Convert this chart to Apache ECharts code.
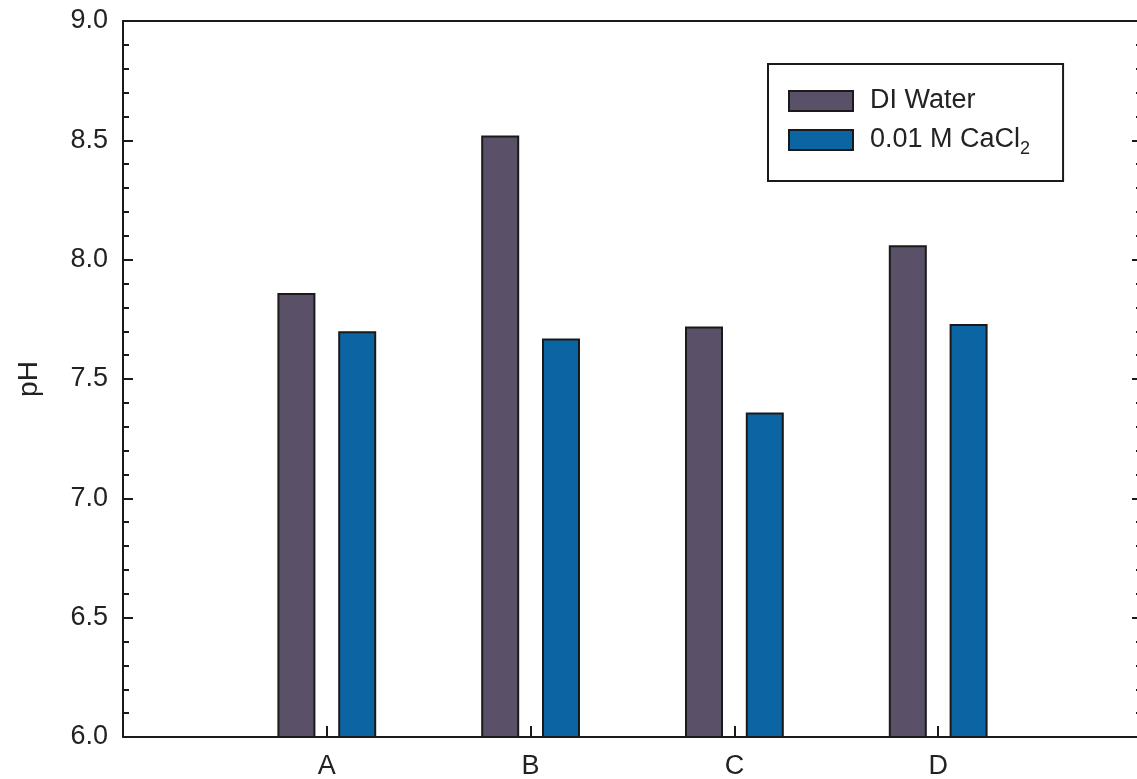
<!DOCTYPE html>
<html>
<head>
<meta charset="utf-8">
<script src="https://cdn.jsdelivr.net/npm/echarts@6/dist/echarts.min.js"></script>
<style>
  html, body { margin: 0; padding: 0; background: #fff; overflow: hidden; }
  #chart { width: 1145px; height: 779px; }
</style>
</head>
<body>
<div id="chart"></div>
<script>
// Soil samples and their measured pH in two extractants
const categories = ['A', 'B', 'C', 'D'];
const diWater = [7.86, 8.52, 7.72, 8.06];
const cacl2 = [7.70, 7.67, 7.36, 7.73];
const seriesNames = ['DI Water', '0.01 M CaCl2'];
const yTicks = { min: 6.0, max: 9.0, interval: 0.5 };

// Pad the category axis with empty slots at both ends so the samples sit at 1..4 on a 0..5 span
const axisCats = [''].concat(categories, ['']);
const pad = arr => [null].concat(arr, [null]);

const FONT = 'Liberation Sans, Arial, sans-serif';
const INK = '#1a1a1a';
const TEXT = '#222';
const axisLine = { show: true, lineStyle: { color: INK, width: 2 } };

const chart = echarts.init(document.getElementById('chart'));
chart.setOption({
  animation: false,
  grid: { left: 123, top: 21, right: 3, bottom: 42, outerBoundsMode: 'none' },
  legend: {
    orient: 'vertical',
    left: 768,
    top: 64,
    padding: [19, 33, 23, 20],
    itemGap: 3,
    itemWidth: 64,
    itemHeight: 20,
    borderColor: INK,
    borderWidth: 2,
    borderRadius: 0,
    icon: 'rect',
    data: seriesNames,
    // CaCl2 gets a true subscript 2
    formatter: name => name === '0.01 M CaCl2' ? '0.01 M CaCl{sub|2}' : name,
    textStyle: {
      fontFamily: FONT,
      fontSize: 27,
      color: TEXT,
      lineHeight: 36,
      padding: [0, 0, 0, 12],
      rich: {
        sub: { fontFamily: FONT, fontSize: 18, lineHeight: 18, color: TEXT, verticalAlign: 'bottom' }
      }
    }
  },
  xAxis: [
    {
      type: 'category',
      data: axisCats,
      boundaryGap: false,
      axisLine: axisLine,
      axisTick: { show: true, inside: true, length: 11, lineStyle: { color: INK, width: 2 } },
      axisLabel: { fontFamily: FONT, fontSize: 27, color: TEXT, margin: 16 },
      splitLine: { show: false }
    },
    {
      type: 'category',
      data: axisCats,
      boundaryGap: false,
      position: 'top',
      axisLine: axisLine,
      axisTick: { show: false },
      axisLabel: { show: false },
      splitLine: { show: false }
    }
  ],
  yAxis: [
    {
      type: 'value',
      min: yTicks.min, max: yTicks.max, interval: yTicks.interval,
      name: 'pH',
      nameLocation: 'middle',
      nameGap: 80,
      nameTextStyle: { fontFamily: FONT, fontSize: 28, color: TEXT },
      axisLine: axisLine,
      axisTick: { show: true, inside: true, length: 10, lineStyle: { color: INK, width: 2 } },
      minorTick: { show: true, splitNumber: 5, length: 6, lineStyle: { color: INK, width: 2 } },
      axisLabel: { fontFamily: FONT, fontSize: 27, color: TEXT, margin: 15, formatter: v => v.toFixed(1) },
      splitLine: { show: false }
    },
    {
      type: 'value',
      position: 'right',
      min: yTicks.min, max: yTicks.max, interval: yTicks.interval,
      axisLine: axisLine,
      axisTick: { show: true, inside: true, length: 10, lineStyle: { color: INK, width: 2 } },
      minorTick: { show: true, splitNumber: 5, length: 6, lineStyle: { color: INK, width: 2 } },
      axisLabel: { show: false },
      splitLine: { show: false }
    }
  ],
  series: [
    {
      name: seriesNames[0],
      type: 'bar',
      data: pad(diWater),
      barWidth: 38,
      barGap: '60%',
      itemStyle: { color: '#5a5168', borderColor: INK, borderWidth: 2 }
    },
    {
      name: seriesNames[1],
      type: 'bar',
      data: pad(cacl2),
      barWidth: 38,
      itemStyle: { color: '#0a65a2', borderColor: INK, borderWidth: 2 }
    }
  ]
});
</script>
</body>
</html>
